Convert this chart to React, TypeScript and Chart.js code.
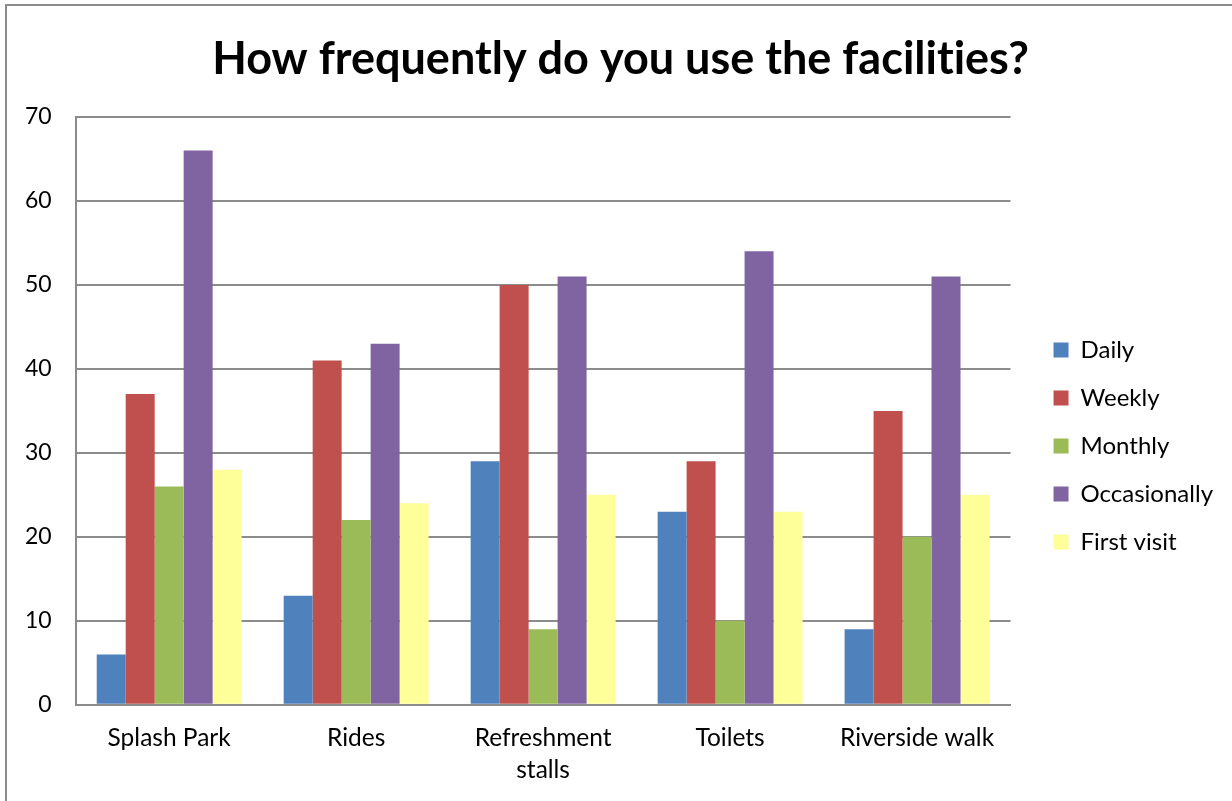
import React, { useEffect, useRef } from "react";
import { Chart, registerables } from "chart.js";

Chart.register(...registerables);

const categories: (string | string[])[] = [
  "Splash Park",
  "Rides",
  ["Refreshment", "stalls"],
  "Toilets",
  "Riverside walk",
];
const daily = [6, 13, 29, 23, 9];
const weekly = [37, 41, 50, 29, 35];
const monthly = [26, 22, 9, 10, 20];
const occasionally = [66, 43, 51, 54, 51];
const firstVisit = [28, 24, 25, 23, 25];
const seriesNames = ["Daily", "Weekly", "Monthly", "Occasionally", "First visit"];
const seriesColors = ["#4F81BD", "#C0504D", "#9BBB59", "#8064A2", "#FFFF99"];
const titleText = "How frequently do you use the facilities?";

const FONT = "Lato, 'Noto Sans', sans-serif";

const framePlugin = {
  id: "frame",
  afterLayout(chart: any) {
    if (chart.titleBlock) {
      chart.titleBlock.left += 17;
    }
  },
  beforeDraw(chart: any) {
    const ctx = chart.ctx;
    ctx.save();
    ctx.fillStyle = "#ffffff";
    ctx.fillRect(0, 0, chart.width, chart.height);
    ctx.strokeStyle = "#8c8c8c";
    ctx.lineWidth = 2;
    ctx.strokeRect(6, 5, 3000, 3000);
    ctx.restore();
    try {
      (ctx as any).textRendering = "optimizeSpeed";
    } catch (e) {}
  },
};

export default function App() {
  const ref = useRef<HTMLCanvasElement | null>(null);
  useEffect(() => {
    if (!ref.current) return;
    Chart.defaults.color = "#000";
    const values = [daily, weekly, monthly, occasionally, firstVisit];
    const chart = new Chart(ref.current, {
      type: "bar",
      data: {
        labels: categories,
        datasets: values.map((v, i) => ({
          label: seriesNames[i],
          data: v,
          backgroundColor: seriesColors[i],
          borderWidth: 0,
          categoryPercentage: 0.775,
          barPercentage: 1,
        })),
      },
      options: {
        responsive: false,
        animation: false,
        layout: { padding: { left: 1, right: 9, top: 0, bottom: -3 } },
        plugins: {
          tooltip: { enabled: false },
          title: {
            display: true,
            text: titleText,
            color: "#000",
            font: { family: FONT, size: 45, weight: "bold", lineHeight: 1.2 },
            padding: { top: 32, bottom: 31 },
          },
          legend: {
            position: "right",
            align: "start",
            title: { display: true, text: "", font: { size: 10, lineHeight: 1 }, padding: { top: 304, bottom: 0 } },
            labels: {
              boxWidth: 15,
              boxHeight: 15,
              padding: 24,
              color: "#000",
              font: { family: FONT, size: 24, lineHeight: 1 },
            },
          },
        },
        scales: {
          x: {
            grid: { display: false, drawTicks: false },
            border: { display: true, color: "#8c8c8c", width: 2 },
            ticks: {
              color: "#000",
              padding: 18,
              maxRotation: 0,
              autoSkip: false,
              font: { family: FONT, size: 24.5, lineHeight: 1.29 },
            },
          },
          y: {
            min: 0,
            max: 70,
            ticks: {
              stepSize: 10,
              color: "#000",
              padding: 24,
              font: { family: FONT, size: 23 },
            },
            grid: { color: "#8c8c8c", lineWidth: 2, drawTicks: false },
            border: { display: true, color: "#8c8c8c", width: 2 },
          },
          y2: {
            position: "right",
            display: true,
            grid: { display: false, drawTicks: false },
            border: { display: false },
            ticks: { display: false },
            afterFit(scale: any) {
              scale.width = 19;
            },
          },
        },
      },
      plugins: [framePlugin],
    });
    return () => chart.destroy();
  }, []);
  return (
    <div style={{ position: "absolute", left: 0, top: 0, width: 1232, height: 801 }}>
      <canvas ref={ref} width={1232} height={801} style={{ display: "block" }} />
    </div>
  );
}
